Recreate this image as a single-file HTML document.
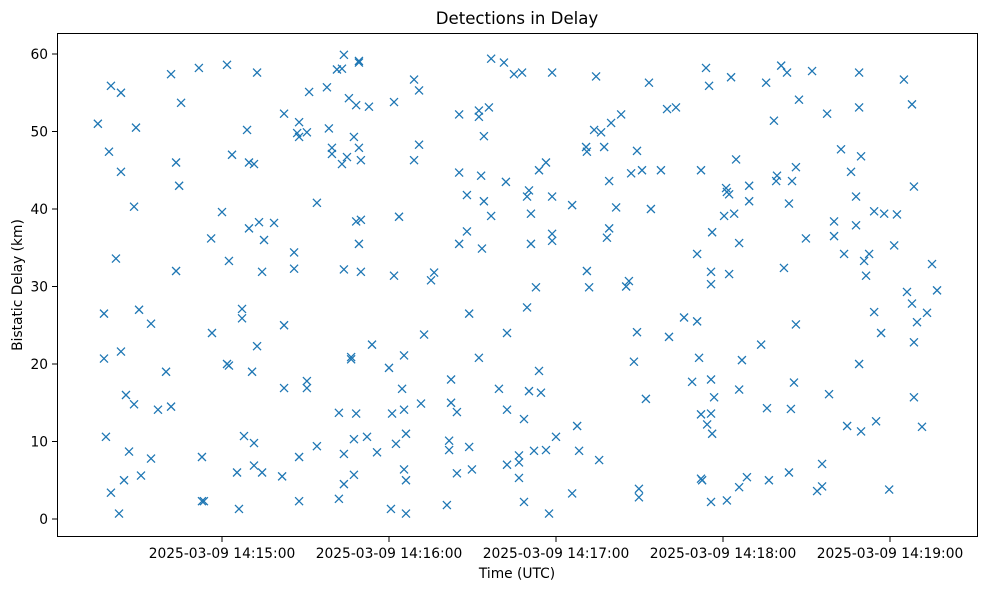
<!DOCTYPE html>
<html><head><meta charset="utf-8">
<style>
html,body{margin:0;padding:0;background:#fff;}
svg{display:block;font-family:"DejaVu Sans","Liberation Sans",sans-serif;}
</style></head>
<body>
<svg id="chart" width="989" height="590" viewBox="0 0 989 590">
<text x="517" y="24" text-anchor="middle" font-size="16.6" fill="#000">Detections in Delay</text>
<text x="0" y="0" transform="translate(22,285) rotate(-90)" text-anchor="middle" font-size="13.8" fill="#000">Bistatic Delay (km)</text>
<text x="517" y="578" text-anchor="middle" font-size="13.8" fill="#000">Time (UTC)</text>
<g id="marks"></g>
<g id="xt"></g>
<g id="yt"></g>
<rect x="57.5" y="33.5" width="920" height="503" fill="none" stroke="#000" stroke-width="1"/>
</svg>
<script>
// seconds after 2025-03-09 14:14:00 UTC
const times = [15.4,17.6,17.6,18.3,19.4,20.1,20.1,21.9,23.0,23.7,23.7,23.7,24.8,25.5,26.6,28.4,29.1,28.4,30.2,30.9,34.5,34.5,37.0,39.9,41.7,41.7,43.5,43.5,44.6,45.3,51.7,52.8,52.8,53.5,56.1,56.4,60.0,61.8,61.8,62.5,62.5,63.6,65.4,66.1,67.2,67.2,67.9,69.0,69.7,69.7,70.8,71.5,71.5,71.5,72.6,72.6,73.3,74.4,74.4,75.1,78.7,81.6,82.3,82.3,82.3,85.9,85.9,87.0,87.7,87.7,87.7,87.7,90.5,90.5,90.5,91.3,94.1,94.1,97.7,98.4,99.5,99.5,101.3,102.0,102.0,103.1,103.1,103.8,103.8,103.8,103.8,104.9,105.6,106.4,106.4,107.4,107.4,107.4,108.2,108.2,108.2,109.2,109.2,109.2,109.2,109.9,109.9,109.9,112.8,112.1,113.9,115.7,120.0,120.7,121.1,121.8,121.8,122.5,123.6,124.7,125.4,125.4,125.4,126.1,126.1,126.1,129.0,129.0,130.8,130.8,131.5,132.6,135.1,136.2,140.8,141.6,141.6,142.3,142.3,144.4,145.2,145.2,145.2,144.4,148.0,148.0,148.8,148.8,149.8,152.3,152.3,152.3,153.1,153.4,154.1,154.1,155.9,156.7,156.7,159.5,161.3,162.0,162.4,162.4,162.4,164.9,166.7,166.7,166.7,167.8,168.5,168.5,169.6,169.6,170.3,170.3,171.0,171.0,172.1,172.8,173.9,173.9,174.6,176.4,176.4,177.5,178.6,178.6,178.6,178.6,180.0,185.8,185.8,187.6,188.3,190.8,191.1,191.1,191.9,193.7,194.4,195.5,196.2,197.3,198.3,199.1,199.1,199.8,201.6,203.4,205.2,206.2,207.0,208.0,209.1,209.1,209.8,209.8,210.9,212.3,213.4,214.1,217.7,219.9,220.6,223.1,226.0,228.9,230.7,230.7,231.4,232.1,232.1,232.1,232.5,233.9,234.3,235.0,235.7,235.7,235.7,235.7,235.7,236.1,236.1,236.8,240.4,241.1,241.4,241.4,242.2,242.2,242.9,244.0,244.7,245.8,245.8,245.8,246.8,248.6,249.4,249.4,253.7,255.5,255.8,256.5,258.3,259.1,259.4,260.9,261.9,263.0,263.7,264.4,263.7,264.8,266.2,266.2,265.5,267.3,269.8,272.0,273.8,275.6,275.6,277.4,278.1,279.9,279.9,282.4,283.5,284.6,286.0,287.8,287.8,288.9,288.9,289.6,288.9,289.6,290.7,291.4,292.5,294.3,294.3,295.0,296.8,297.9,299.7,301.5,302.5,305.0,306.1,307.9,307.9,308.6,308.6,308.6,309.7,311.5,313.3,315.1,316.9];
const delays = [51.0,26.5,20.7,10.6,47.4,55.9,3.4,33.6,0.7,55.0,21.6,44.8,5.0,16.0,8.7,14.8,50.5,40.3,27.0,5.6,25.2,7.8,14.1,19.0,57.4,14.5,46.0,32.0,43.0,53.7,58.2,8.0,2.3,2.3,36.2,24.0,39.6,58.6,20.0,19.8,33.3,47.0,6.0,1.3,27.1,25.9,10.7,50.2,37.5,46.0,19.0,45.8,9.8,6.9,57.6,22.3,38.3,31.9,6.0,36.0,38.2,5.5,52.3,25.0,16.9,34.4,32.3,49.8,51.2,49.3,8.0,2.3,49.9,17.8,16.9,55.1,9.4,40.8,55.7,50.4,47.9,47.1,58.0,13.7,2.6,58.1,45.8,59.9,32.2,8.4,4.5,46.7,54.3,20.9,20.6,49.3,10.3,5.7,53.4,38.4,13.6,59.1,58.9,47.9,35.5,46.3,38.6,31.9,53.2,10.6,22.5,8.6,19.5,1.3,13.6,53.8,31.4,9.7,39.0,16.8,21.1,14.1,6.4,5.0,0.7,11.0,56.7,46.3,55.3,48.3,14.9,23.8,30.8,31.8,1.8,10.1,8.9,18.0,15.0,13.8,52.2,44.7,35.5,5.9,41.8,37.1,26.5,9.3,6.4,51.9,52.7,20.8,44.3,34.9,49.4,41.0,53.1,59.4,39.1,16.8,58.9,43.5,24.0,14.1,7.0,57.4,5.3,7.3,8.2,57.6,12.9,2.2,41.6,27.3,42.4,16.5,39.4,35.5,8.8,29.9,45.0,19.1,16.3,46.0,8.9,0.7,57.6,41.6,36.8,35.9,10.6,40.5,3.3,12.0,8.8,48.0,47.4,32.0,29.9,50.2,57.1,7.6,49.9,48.0,36.3,37.5,43.6,51.1,40.2,52.2,30.0,30.7,44.6,20.3,24.1,47.5,3.9,2.8,45.0,15.5,56.3,40.0,45.0,52.9,23.5,53.1,26.0,17.7,34.2,25.5,20.8,45.0,13.5,5.2,5.0,58.2,12.2,55.9,13.6,18.0,31.9,30.3,2.2,37.0,11.0,15.7,39.1,42.7,42.2,2.4,41.9,31.6,57.0,39.4,46.4,35.6,16.7,4.1,20.5,5.4,43.0,41.0,22.5,56.3,14.3,5.0,51.4,43.6,44.3,58.5,32.4,57.6,40.7,14.2,6.0,43.6,45.4,25.1,17.6,54.1,36.2,57.8,3.6,7.1,4.2,52.3,16.1,38.4,36.5,47.7,34.2,12.0,44.8,41.6,37.9,57.6,53.1,46.8,20.0,11.3,33.3,31.4,34.2,39.7,26.7,12.6,24.0,39.4,3.8,35.3,39.3,56.7,29.3,53.5,27.8,42.9,22.8,15.7,25.4,11.9,26.6,32.9,29.5];
const xTicks = [60,120,180,240,300];
const xTickLabels = ["2025-03-09 14:15:00","2025-03-09 14:16:00","2025-03-09 14:17:00","2025-03-09 14:18:00","2025-03-09 14:19:00"];
const yTicks = [0,10,20,30,40,50,60];

const NS="http://www.w3.org/2000/svg";
function xs(t){return 55 + t*167/60;}
function ys(v){return 519 - v*7.75;}
const marks=document.getElementById('marks');
for(let i=0;i<times.length;i++){
  const cx=xs(times[i]), cy=ys(delays[i]), r=4;
  const p=document.createElementNS(NS,'path');
  p.setAttribute('d',`M${cx-r},${cy-r}L${cx+r},${cy+r}M${cx-r},${cy+r}L${cx+r},${cy-r}`);
  p.setAttribute('stroke','#1f77b4');p.setAttribute('stroke-width','1.3');p.setAttribute('fill','none');
  
  
  marks.appendChild(p);
}
const xt=document.getElementById('xt');
xTicks.forEach((t,i)=>{
  const x=xs(t);
  const l=document.createElementNS(NS,'line');
  l.setAttribute('x1',x);l.setAttribute('x2',x);l.setAttribute('y1',537);l.setAttribute('y2',542);
  l.setAttribute('stroke','#000');
  
  
  xt.appendChild(l);
  const tx=document.createElementNS(NS,'text');
  tx.setAttribute('x',x);tx.setAttribute('y',558);tx.setAttribute('text-anchor','middle');tx.setAttribute('font-size','13.8');
  tx.textContent=xTickLabels[i];
  
  
  xt.appendChild(tx);
});
const yt=document.getElementById('yt');
yTicks.forEach(v=>{
  const y=ys(v);
  const l=document.createElementNS(NS,'line');
  l.setAttribute('x1',52);l.setAttribute('x2',57.5);l.setAttribute('y1',y);l.setAttribute('y2',y);
  l.setAttribute('stroke','#000');
  
  
  yt.appendChild(l);
  const tx=document.createElementNS(NS,'text');
  tx.setAttribute('x',48);tx.setAttribute('y',y+5);tx.setAttribute('text-anchor','end');tx.setAttribute('font-size','13.8');
  tx.textContent=String(v);
  
  
  yt.appendChild(tx);
});
</script>
</body></html>
